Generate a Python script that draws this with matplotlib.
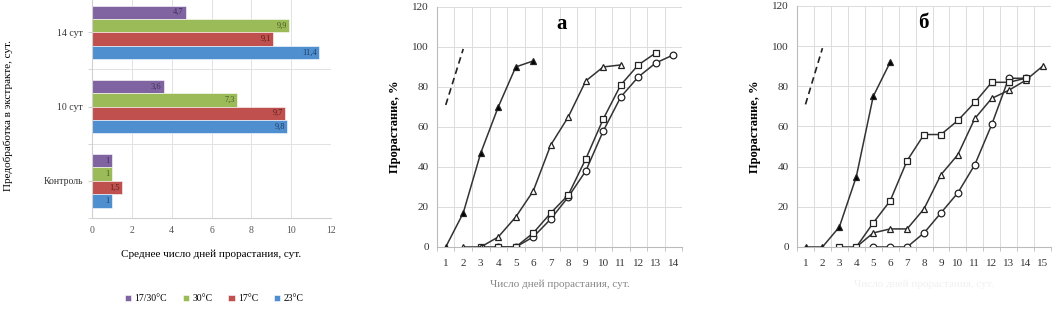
import numpy as np
import matplotlib.pyplot as plt
from matplotlib.ticker import MultipleLocator

plt.rcParams['font.family'] = ['Liberation Serif', 'DejaVu Serif']

# --- bar chart data ---
groups = ['Контроль', '10 сут', '14 сут']
temps = ['17/30°C', '30°C', '17°C', '23°C']
vals_1730 = [1, 3.6, 4.7]
vals_30 = [1, 7.3, 9.9]
vals_17 = [1.5, 9.7, 9.1]
vals_23 = [1, 9.8, 11.4]
bar_colors = ['#8064A2', '#9BBB59', '#C0504D', '#4F8FD0']
label_colors = ['#3d2f55', '#4a5a22', '#5a1f1d', '#1c3f66']

# --- line chart "а" ---
a_x1 = [1, 2, 3, 4, 5, 6]
a_y1 = [0, 17, 47, 70, 90, 93]
a_x2 = [2, 3, 4, 5, 6, 7, 8, 9, 10, 11]
a_y2 = [0, 0, 5, 15, 28, 51, 65, 83, 90, 91]
a_x3 = [3, 4, 5, 6, 7, 8, 9, 10, 11, 12, 13]
a_y3 = [0, 0, 0, 7, 17, 26, 44, 64, 81, 91, 97]
a_x4 = [4, 5, 6, 7, 8, 9, 10, 11, 12, 13, 14]
a_y4 = [0, 0, 5, 14, 25, 38, 58, 75, 85, 92, 96]

# --- line chart "б" ---
b_x1 = [1, 2, 3, 4, 5, 6]
b_y1 = [0, 0, 10, 35, 75, 92]
b_x2 = [3, 4, 5, 6, 7, 8, 9, 10, 11, 12, 13, 14]
b_y2 = [0, 0, 12, 23, 43, 56, 56, 63, 72, 82, 82, 84]
b_x3 = [4, 5, 6, 7, 8, 9, 10, 11, 12, 13, 14, 15]
b_y3 = [0, 7, 9, 9, 19, 36, 46, 64, 74, 78, 83, 90]
b_x4 = [5, 6, 7, 8, 9, 10, 11, 12, 13, 14]
b_y4 = [0, 0, 0, 7, 17, 27, 41, 61, 84, 84]

dash_x = [1, 2]
dash_y = [71, 99]

fig = plt.figure(figsize=(10.54, 3.13), dpi=100)

# ---------------- bar chart ----------------
ax = fig.add_axes([0.0873, 0.3035, 0.2268, 0.712])
series = [vals_1730, vals_30, vals_17, vals_23]
h = 0.18
ypos = np.arange(len(groups))
for i, vals in enumerate(series):
    off = (1.5 - i) * h
    bars = ax.barh(ypos + off, vals, height=h, color=bar_colors[i],
                   edgecolor='white', linewidth=0.4, label=temps[i])
    for b, v in zip(bars, vals):
        txt = ('%g' % v).replace('.', ',')
        ax.text(b.get_width() - 0.12, b.get_y() + h / 2, txt, ha='right',
                va='center', fontsize=6, color=label_colors[i])
ax.set_xlim(0, 12)
ax.set_ylim(-0.5, 2.5)
ax.set_xticks(range(0, 13, 2))
ax.set_yticks(ypos)
ax.set_yticklabels(groups, fontsize=7)
ax.yaxis.set_minor_locator(MultipleLocator(1, offset=0.5))
ax.grid(axis='x', color='#e2e2e2', lw=0.7)
ax.grid(axis='y', which='minor', color='#e2e2e2', lw=0.7)
ax.set_axisbelow(True)
for s in ['top', 'right']:
    ax.spines[s].set_visible(False)
for s in ['left', 'bottom']:
    ax.spines[s].set_color('#d0d0d0')
ax.tick_params(axis='x', labelsize=7, colors='#555555', length=0, pad=6)
ax.tick_params(axis='y', which='both', length=3, color='#d0d0d0', labelcolor='#333333')
ax.set_xlabel('Среднее число дней прорастания, сут.', fontsize=8, labelpad=10)
ax.set_ylabel('Предобработка в экстракте, сут.', fontsize=8)
ax.yaxis.set_label_coords(-0.33, 0.46)
handles, labels = ax.get_legend_handles_labels()
fig.legend(handles, labels, loc='center', bbox_to_anchor=(0.203, 0.045), ncol=4,
           frameon=False, fontsize=7, handlelength=0.7, handleheight=0.7,
           handletextpad=0.3, columnspacing=1.6)


def line_panel(rect, n, title, tx, data):
    a = fig.add_axes(rect)
    a.plot(dash_x, dash_y, color='#222222', lw=1.2, ls=(0, (4, 2.5)))
    for (xs, ys, mk, fc) in data:
        a.plot(xs, ys, color='#333333', lw=1.1, marker=mk, ms=4.8,
               mfc=fc, mec='#222222', mew=0.9)
    a.set_xlim(0.5, n + 0.5)
    a.set_ylim(0, 120)
    a.set_xticks(range(1, n + 1))
    a.set_yticks(range(0, 121, 20))
    a.xaxis.set_minor_locator(MultipleLocator(1, offset=0.5))
    a.grid(axis='y', color='#dcdcdc', lw=0.7)
    a.grid(axis='x', which='minor', color='#dcdcdc', lw=0.7)
    a.set_axisbelow(True)
    for s in ['top', 'right']:
        a.spines[s].set_visible(False)
    for s in ['left', 'bottom']:
        a.spines[s].set_color('#bbbbbb')
    a.tick_params(axis='both', which='major', labelsize=8, colors='#333333', length=0, pad=9)
    a.tick_params(axis='y', pad=6)
    a.tick_params(axis='both', which='minor', length=3, color='#bbbbbb')
    a.set_ylabel('Прорастание, %', fontsize=9, fontweight='bold', labelpad=8)
    a.text(tx, 0.93, title, transform=a.transAxes, ha='center', va='center',
           fontsize=15, fontweight='bold')
    return a


ax_a = line_panel([0.4146, 0.2109, 0.2325, 0.767], 14, 'а', 0.51, [
    (a_x4, a_y4, 'o', 'white'),
    (a_x3, a_y3, 's', 'white'),
    (a_x2, a_y2, '^', 'white'),
    (a_x1, a_y1, '^', 'black'),
])
ax_a.set_xlabel('Число дней прорастания, сут.', fontsize=8, color='#888888', labelpad=8)

ax_b = line_panel([0.7562, 0.2109, 0.2410, 0.770], 15, 'б', 0.496, [
    (b_x4, b_y4, 'o', 'white'),
    (b_x3, b_y3, '^', 'white'),
    (b_x2, b_y2, 's', 'white'),
    (b_x1, b_y1, '^', 'black'),
])
ax_b.set_xlabel('Число дней прорастания, сут.', fontsize=8, color='#f0f0f0', labelpad=8)

fig.savefig('out.png', dpi=100)
